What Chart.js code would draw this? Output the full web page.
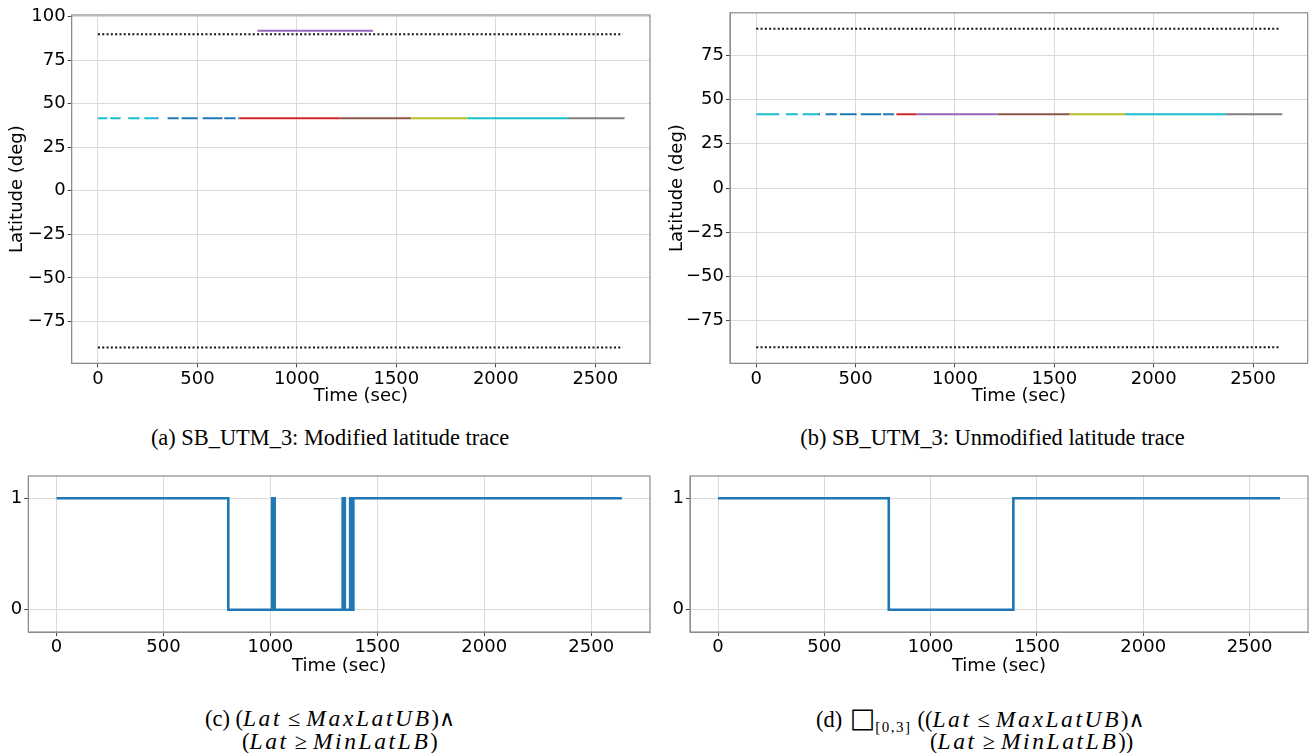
<!doctype html>
<html lang="en">
<head>
<meta charset="utf-8">
<title>SB_UTM_3 latitude traces</title>
<script src="https://cdn.jsdelivr.net/npm/chart.js@4.4.1/dist/chart.umd.min.js"></script>
<style>
  body { margin: 0; background: #fff; width: 1311px; height: 753px; position: relative; overflow: hidden; }
  canvas { position: absolute; }
  .cap { position: absolute; font-family: "Liberation Serif", "Times New Roman", serif; font-size: 22.4px; line-height: 24px; color: #000; white-space: nowrap; }
  .cap i { font-style: italic; font-size: 23.5px; letter-spacing: 2.6px; }
  .cap .op { padding: 0 6px; }
  .cap .wedge { font-family: "DejaVu Serif", serif; font-size: 22px; font-weight: normal; }
  .cap .box { font-family: "DejaVu Sans", sans-serif; font-size: 27px; margin-left: 2px; }
  .cap sub { font-size: 15px; letter-spacing: 1.5px; margin-right: 6px; }
</style>
</head>
<body>
<canvas id="chartA" width="660" height="410" style="left:0;top:0"></canvas>
<canvas id="chartB" width="651" height="410" style="left:660px;top:0"></canvas>
<canvas id="chartC" width="660" height="220" style="left:0;top:460px"></canvas>
<canvas id="chartD" width="651" height="220" style="left:660px;top:460px"></canvas>

<div class="cap" style="left:0;width:660px;top:426px;text-align:center">(a) SB_UTM_3: Modified latitude trace</div>
<div class="cap" style="left:660px;width:665px;top:426px;text-align:center">(b) SB_UTM_3: Unmodified latitude trace</div>
<div class="cap" style="left:205px;top:706px">(c) (<i>Lat</i><span class="op">≤</span><i>MaxLatUB</i>)<span class="wedge">∧</span></div>
<div class="cap" style="left:242px;top:729px">(<i>Lat</i><span class="op">≥</span><i>MinLatLB</i>)</div>
<div class="cap" style="left:816px;top:706px">(d) <span class="box">□</span><sub>[0,3]</sub>((<i>Lat</i><span class="op">≤</span><i>MaxLatUB</i>)<span class="wedge">∧</span></div>
<div class="cap" style="left:930px;top:729px">(<i>Lat</i><span class="op">≥</span><i>MinLatLB</i>))</div>

<script>
// tick values
const timeTicks = [0, 500, 1000, 1500, 2000, 2500];
const latTicksA = [-75, -50, -25, 0, 25, 50, 75, 100];
const latTicksB = [-75, -50, -25, 0, 25, 50, 75];
const boolTicks = [0, 1];

// latitude bounds (dotted lines)
const boundTimes = [0, 2638];
const maxLatUB = 90;
const minLatLB = -90;

// GPS trace: constant latitude, split into coloured pieces, with dropouts
const tripLat = 41.7;
const segBreaksA = [0, 294, 711, 1218, 1573, 1857, 2359, 2647];
const segBreaksB = [0, 312, 704, 806, 1216, 1576, 1856, 2360, 2647];
const dropoutsA = [[47, 62], [114, 152], [209, 233], [303, 350], [406, 421], [502, 526], [626, 635], [692, 705]];
const dropoutsB = [[116, 149], [209, 233], [321, 349], [405, 421], [505, 526], [629, 638], [694, 705]];
// spoofed piece in the modified trace
const spoofTimes = [802, 1383];
const spoofLat = 91.9;

// robustness (boolean) signals
const robTimesC = [0, 803, 1008, 1020, 1338, 1348, 1373, 1379, 1388, 2643];
const robValsC = [1, 0, 1, 0, 1, 0, 1, 0, 1, 1];
const robTimesD = [0, 803, 1389, 2643];
const robValsD = [1, 0, 1, 1];

const C = {
  blue: '#1f77b4', red: '#d62728', purple: '#9467bd', brown: '#8c564b',
  grey: '#7f7f7f', olive: '#bcbd22', cyan: '#17becf'
};
const segColorsA = [C.cyan, C.blue, C.red, C.brown, C.olive, C.cyan, C.grey];
const segColorsB = [C.cyan, C.blue, C.red, C.purple, C.brown, C.olive, C.cyan, C.grey];

const gridC = '#dadada';
const frameC = '#8c8c8c';
const font = { family: 'DejaVu Sans', size: 18 };

function pieces(s, e, gaps) {
  const out = [];
  let cur = s;
  for (const [g0, g1] of gaps) {
    if (g1 <= cur || g0 >= e) continue;
    if (g0 > cur) out.push([cur, g0]);
    cur = Math.max(cur, g1);
  }
  if (cur < e) out.push([cur, e]);
  return out;
}

function traceSets(breaks, gaps, colors) {
  const sets = [];
  for (let i = 0; i < breaks.length - 1; i++) {
    const pts = [];
    pieces(breaks[i], breaks[i + 1], gaps).forEach(([a, b]) => {
      pts.push({ x: a, y: tripLat }, { x: b, y: tripLat }, { x: b, y: null });
    });
    sets.push({ data: pts, borderColor: colors[i], borderWidth: 2, pointRadius: 0, spanGaps: false, borderCapStyle: 'butt' });
  }
  return sets;
}

function boundSets() {
  return [maxLatUB, minLatLB].map(v => ({
    data: boundTimes.map(t => ({ x: t, y: v })),
    borderColor: '#111', borderWidth: 2, borderDash: [2, 2.3], pointRadius: 0
  }));
}

function stepSet(times, vals) {
  return {
    data: times.map((t, i) => ({ x: t, y: vals[i] })),
    borderColor: C.blue, borderWidth: 2.6, pointRadius: 0, stepped: 'before'
  };
}

const framePlugin = {
  id: 'frame',
  afterDatasetsDraw(chart) {
    const { ctx, chartArea: a } = chart;
    ctx.save();
    ctx.strokeStyle = frameC;
    ctx.lineWidth = 1.2;
    ctx.strokeRect(a.left, a.top, a.right - a.left, a.bottom - a.top);
    ctx.restore();
  }
};

const fmt = v => String(v).replace('-', '\u2212');

function makeChart(id, datasets, cfg) {
  const y = {
    type: 'linear', min: cfg.ymin, max: cfg.ymax,
    afterBuildTicks: s => { s.ticks = cfg.yticks.map(v => ({ value: v })); },
    afterFit: s => { s.width = cfg.yw; },
    grid: { color: gridC, tickColor: '#444', tickLength: 4 },
    border: { color: frameC },
    ticks: { font, color: '#000', padding: 2, callback: fmt }
  };
  if (cfg.ytitle) {
    y.title = { display: true, text: cfg.ytitle, font, color: '#000', padding: { top: 7, bottom: 0 } };
  }
  return new Chart(document.getElementById(id), {
    type: 'line',
    data: { datasets },
    options: {
      responsive: false,
      animation: false,
      layout: { padding: cfg.pad },
      plugins: { legend: { display: false }, tooltip: { enabled: false } },
      scales: {
        x: {
          type: 'linear', min: -132, max: 2775,
          afterBuildTicks: s => { s.ticks = timeTicks.map(v => ({ value: v })); },
          afterFit: s => { s.height = cfg.xh; },
          grid: { color: gridC, tickColor: '#444', tickLength: 4 },
          border: { color: frameC },
          ticks: { font, color: '#000', padding: 1, maxRotation: 0, callback: fmt },
          title: { display: true, text: 'Time (sec)', font, color: '#000', padding: { top: 0, bottom: 3 } }
        },
        y
      }
    },
    plugins: [framePlugin]
  });
}

const spoofSet = {
  data: spoofTimes.map(t => ({ x: t, y: spoofLat })),
  borderColor: C.purple, borderWidth: 2, pointRadius: 0, borderCapStyle: 'butt'
};

makeChart('chartA', [...boundSets(), ...traceSets(segBreaksA, dropoutsA, segColorsA), spoofSet], {
  ymin: -99.1, ymax: 101.0, yticks: latTicksA, yw: 71.7, xh: 46.7,
  pad: { top: 15, right: 10, left: 0, bottom: 0 }, ytitle: 'Latitude (deg)'
});
makeChart('chartB', [...boundSets(), ...traceSets(segBreaksB, dropoutsB, segColorsB)], {
  ymin: -99, ymax: 99, yticks: latTicksB, yw: 70, xh: 46.7,
  pad: { top: 10, right: 3.3, left: 0, bottom: 0 }, ytitle: 'Latitude (deg)'
});
makeChart('chartC', [stepSet(robTimesC, robValsC)], {
  ymin: -0.2, ymax: 1.2, yticks: boolTicks, yw: 28.3, xh: 48,
  pad: { top: 16, right: 10, left: 0, bottom: 0 }
});
makeChart('chartD', [stepSet(robTimesD, robValsD)], {
  ymin: -0.2, ymax: 1.2, yticks: boolTicks, yw: 30, xh: 48,
  pad: { top: 16, right: 3, left: 0, bottom: 0 }
});
</script>
</body>
</html>
